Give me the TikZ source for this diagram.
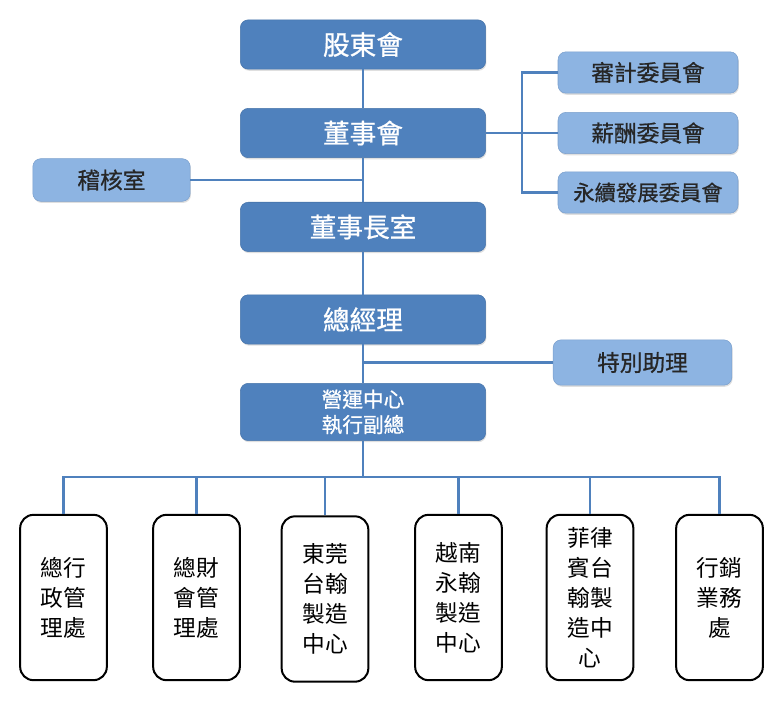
\documentclass[tikz,border=0pt]{standalone}
\usepackage{fontspec}
\setmainfont{Noto Sans CJK TC}
\newfontfamily\medfont{Noto Sans CJK TC}[FakeBold=0.8]
\usepackage{xcolor}
\usetikzlibrary{positioning, shadows}
\definecolor{darkblue}{HTML}{4F81BD}
\definecolor{lightblue}{HTML}{8DB4E2}
\definecolor{lightedge}{HTML}{7BA0CD}

\begin{document}
\begin{tikzpicture}[
			x=0.75pt, y=-0.75pt,
			head/.style={draw=darkblue!90!black, fill=darkblue, rounded corners=6pt, align=center, text=white,
				font=\medfont\fontsize{20}{24}\selectfont, minimum width=184pt, minimum height=37pt,
				drop shadow={opacity=0.25, shadow xshift=0.6pt, shadow yshift=-1.2pt}},
			staff/.style={draw=lightedge, fill=lightblue, rounded corners=6pt, align=center, text=black!85,
				font=\medfont\fontsize{17}{20}\selectfont, minimum height=32pt,
				drop shadow={opacity=0.25, shadow xshift=0.6pt, shadow yshift=-1.2pt}},
			dept/.style={draw=black, line width=1.5pt, fill=white, rounded corners=10pt, align=center,
				font=\fontsize{17}{22.5}\selectfont, minimum width=65pt, minimum height=124pt, inner sep=2pt},
			link/.style={draw=darkblue, line width=2pt}
			]
			
			\useasboundingbox (0,0) rectangle (781,700);
			
			% Nodes
			\node (share) [head] at (363,44.5) {股東會};
			\node (board) [head, below=29pt of share] {董事會};
			\node (chair) [head, below=33pt of board] {董事長室};
			\node (gm) [head, below=32pt of chair] {總經理};
			\node (ops) [head, below=29pt of gm, minimum height=43pt, font=\medfont\fontsize{15.5}{19}\selectfont] {營運中心\\執行副總};
			
			\node (audit) [staff, minimum width=118pt] at (111.5,180) {稽核室};
			\node (assist) [staff, minimum width=134pt, minimum height=34pt] at (642.5,362.5) {特別助理};
			
			\node (audcom) [staff, minimum width=135pt, minimum height=31pt] at (648,72.5) {審計委員會};
			\node (paycom) [staff, minimum width=135pt, minimum height=31pt] at (648,133) {薪酬委員會};
			\node (esgcom) [staff, minimum width=135pt, minimum height=31pt, font=\medfont\fontsize{16}{20}\selectfont] at (648,192.5) {永續發展委員會};
			
			\node (admin) [dept] at (63.5,597.5) {總行\\政管\\理處};
			\node (finance) [dept] at (196.5,597.5) {總財\\會管\\理處};
			\node (dongguan) [dept] at (325,599) {東莞\\台翰\\製造\\中心};
			\node (vietnam) [dept] at (458.5,597.5) {越南\\永翰\\製造\\中心};
			\node (philippines) [dept] at (590,597.5) {菲律\\賓台\\翰製\\造中\\心};
			\node (sales) [dept] at (719.5,597.5) {行銷\\業務\\處};
			
			\coordinate (combus) at (522,0);
			\coordinate (deptbus) at (363,477);
			
			% Connections
			\draw [link] (share) -- (board);
			\draw [link] (board) -- (chair);
			\draw [link] (chair) -- (gm);
			\draw [link] (gm) -- (ops);
			\draw [link] (audit.east) -- (audit.east -| board.south);
			\draw [link] (assist.west) -- (assist.west -| gm.south);
			
			\draw [link] (board.east) -- (board.east -| combus);
			\draw [link] (audcom.west) -- (audcom.west -| combus) -- (esgcom.west -| combus) -- (esgcom.west);
			\draw [link] (paycom.west) -- (paycom.west -| combus);
			
			\draw [link] (ops.south) -- (deptbus);
			\draw [link] (admin.north) -- (admin.north |- deptbus) -- (sales.north |- deptbus) -- (sales.north);
			\draw [link] (finance.north) -- (finance.north |- deptbus);
			\draw [link] (dongguan.north) -- (dongguan.north |- deptbus);
			\draw [link] (vietnam.north) -- (vietnam.north |- deptbus);
			\draw [link] (philippines.north) -- (philippines.north |- deptbus);
			
		\end{tikzpicture}
\end{document}
